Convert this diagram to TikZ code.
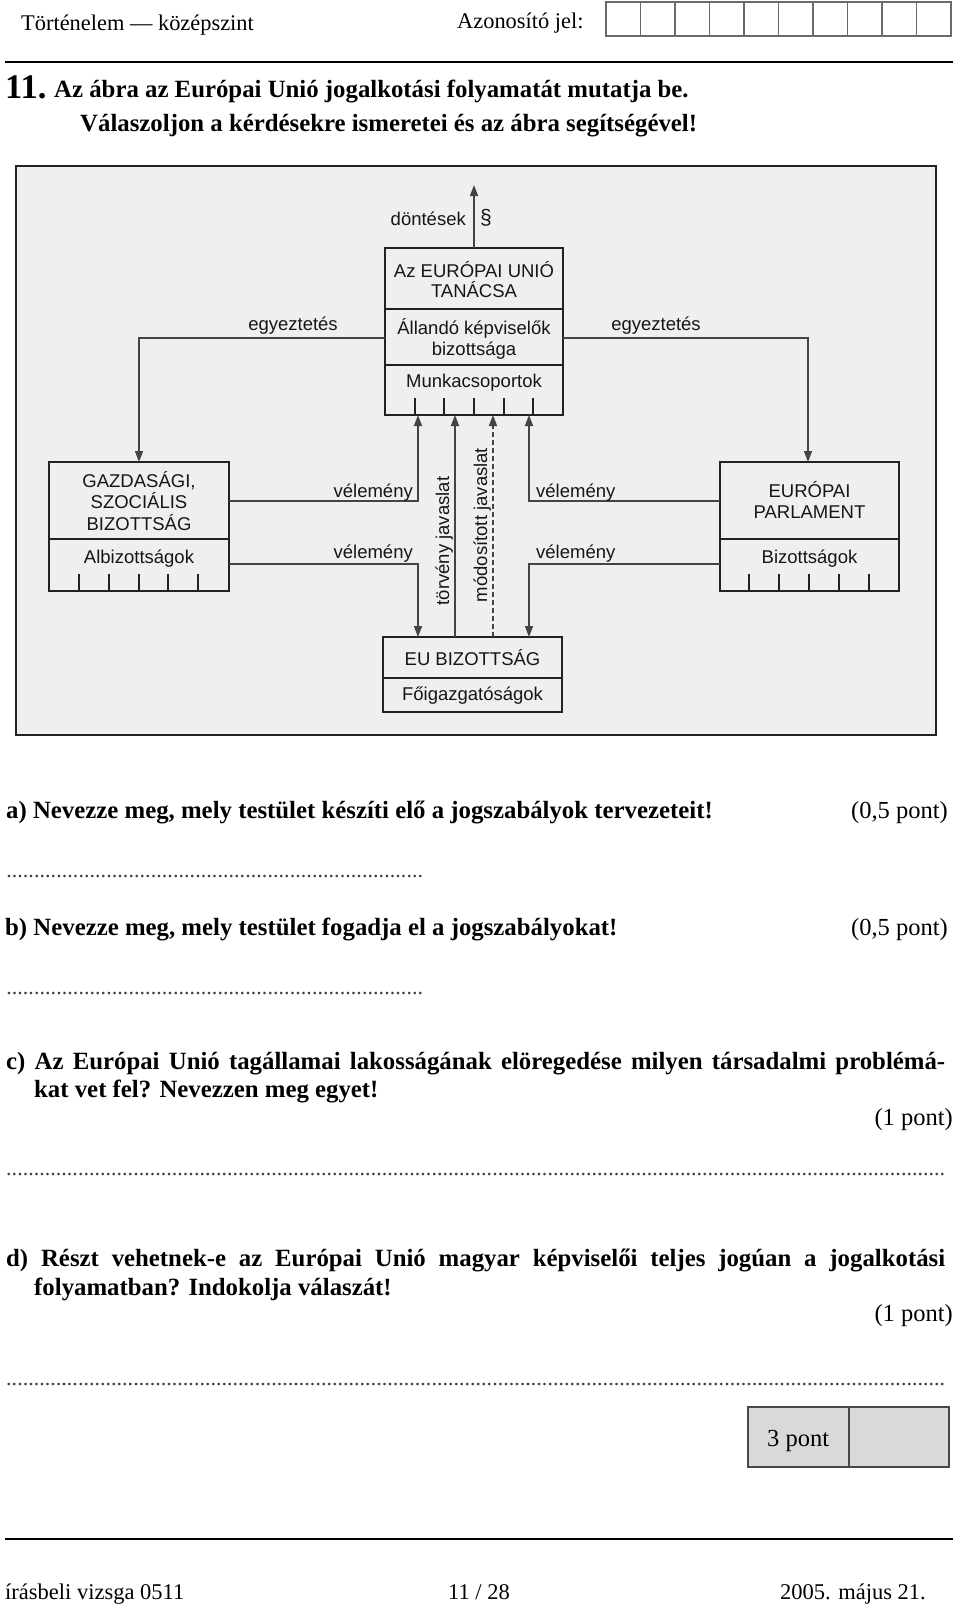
\documentclass[tikz,border=0pt]{standalone}
\usepackage{fontspec}
\setmainfont{Liberation Serif}
\newfontfamily\arialf{Liberation Sans}
\usetikzlibrary{arrows.meta}
\definecolor{framefill}{HTML}{EFEFEF}
\definecolor{boxc}{HTML}{222222}
\definecolor{linec}{HTML}{444444}
\definecolor{txtc}{HTML}{161616}
\definecolor{cellc}{HTML}{6A6A6A}
\definecolor{ptfill}{HTML}{D9D9D9}
\newcommand\dotrow[1]{\hbox to #1{\xleaders\hbox{.}\hfill}}
\tikzset{
  frm/.style={draw=boxc, line width=2pt, fill=framefill, inner sep=0pt, outer sep=0pt},
  dbox/.style={draw=boxc, line width=2.3pt, inner sep=0pt, outer sep=0pt},
  divl/.style={draw=boxc, line width=2pt},
  tickl/.style={draw=boxc, line width=1.6pt},
  conn/.style={draw=linec, line width=1.5pt},
  arr/.style={conn, -{Triangle[length=11pt,width=8pt]}},
  dtxt/.style={font=\arialf\fontsize{18.5}{21}\selectfont, text=txtc, inner sep=0pt, anchor=base},
  hdr/.style={font=\fontsize{22.4}{26}\selectfont, inner sep=0pt, anchor=base west},
  qb/.style={font=\bfseries\fontsize{24.8}{29}\selectfont, inner sep=0pt, anchor=base west},
  pt/.style={font=\fontsize{24.5}{29}\selectfont, inner sep=0pt, anchor=base east},
  dots/.style={font=\fontsize{22}{26}\selectfont, text=black!75, inner sep=0pt, anchor=base west},
  foot/.style={font=\fontsize{22.5}{26}\selectfont, inner sep=0pt, anchor=base west},
}
\begin{document}
\begin{tikzpicture}[x=1pt,y=-1pt]
\useasboundingbox (0,0) rectangle (960,1604);
\fill[white] (0,0) rectangle (960,1604);

% ---------- header ----------
\node[hdr] (hleft) at (21,30) {Történelem — középszint};
\node[hdr] (hid) at (457,28) {Azonosító jel:};
\node[draw=cellc, line width=1.3pt, minimum width=345pt, minimum height=34pt, inner sep=0pt, outer sep=0pt] (cells) at (778.5,19) {};
\foreach \i in {1,...,9} { \draw[draw=cellc, line width=1.3pt] (606+34.5*\i,2) -- (606+34.5*\i,36); }
\draw[line width=2.8pt] (5,62) -- (953,62);

\node[font=\bfseries\fontsize{34.5}{38}\selectfont, inner sep=0pt, anchor=base west] (qnum) at (5,98) {11.};
\node[qb] (t1) at (54,97) {Az ábra az Európai Unió jogalkotási folyamatát mutatja be.};
\node[qb] (t2) at (80,131) {Válaszoljon a kérdésekre ismeretei és az ábra segítségével!};

% ---------- diagram ----------
\node[frm, minimum width=920pt, minimum height=569pt] (frame) at (476,450.5) {};

\coordinate (dec) at (474,185);
\coordinate (eyL) at (139,338);
\coordinate (eyR) at (808,338);
\coordinate (v1) at (418,501);
\coordinate (v2) at (418,564);
\coordinate (v3) at (529,501);
\coordinate (v4) at (529,564);
\coordinate (tj) at (455,540);
\coordinate (mj) at (493,540);

\node[dbox, minimum width=178pt, minimum height=167pt] (council) at (474,331.5) {};
\node[dbox, minimum width=180pt, minimum height=129pt] (egszb) at (139,526.5) {};
\node[dbox, minimum width=179pt, minimum height=129pt] (ep) at (809.5,526.5) {};
\node[dbox, minimum width=179pt, minimum height=75pt] (comm) at (472.5,674.5) {};

% connectors
\draw[arr] (council.north) -- (dec);
\draw[arr] (council.west |- eyL) -- (eyL) -- (egszb.north);
\draw[arr] (council.east |- eyR) -- (eyR) -- (eyR |- ep.north);
\draw[arr] (egszb.east |- v1) -- (v1) -- (v1 |- council.south);
\draw[arr] (egszb.east |- v2) -- (v2) -- (v2 |- comm.north);
\draw[arr] (ep.west |- v3) -- (v3) -- (v3 |- council.south);
\draw[arr] (ep.west |- v4) -- (v4) -- (v4 |- comm.north);
\draw[arr] (tj |- comm.north) -- (tj |- council.south);
\draw[arr, dash pattern=on 5pt off 3pt] (mj |- comm.north) -- (mj |- council.south);

% dividers
\draw[divl] (council.west |- 0,309) -- (council.east |- 0,309);
\draw[divl] (council.west |- 0,365) -- (council.east |- 0,365);
\draw[divl] (egszb.west |- 0,539) -- (egszb.east |- 0,539);
\draw[divl] (ep.west |- 0,539) -- (ep.east |- 0,539);
\draw[divl] (comm.west |- 0,678) -- (comm.east |- 0,678);

% ticks
\foreach \x in {415,444,474,504,533} { \draw[tickl] (\x,398) -- (\x,415); }
\foreach \x in {79,109,139,168,198} { \draw[tickl] (\x,574) -- (\x,591); }
\foreach \x in {749,779,809,839,869} { \draw[tickl] (\x,574) -- (\x,591); }

% texts in boxes
\node[dtxt] (c1) at (474,277) {Az EURÓPAI UNIÓ};
\node[dtxt] (c2) at (474,297) {TANÁCSA};
\node[dtxt] (c3) at (474,334) {Állandó képviselők};
\node[dtxt] (c4) at (474,355) {bizottsága};
\node[dtxt] (c5) at (474,387) {Munkacsoportok};

\node[dtxt] (g1) at (139,487) {GAZDASÁGI,};
\node[dtxt] (g2) at (139,508) {SZOCIÁLIS};
\node[dtxt] (g3) at (139,530) {BIZOTTSÁG};
\node[dtxt] (g4) at (139,563) {Albizottságok};

\node[dtxt] (e1) at (809.5,497) {EURÓPAI};
\node[dtxt] (e2) at (809.5,518) {PARLAMENT};
\node[dtxt] (e3) at (809.5,563) {Bizottságok};

\node[dtxt] (k1) at (472.5,665) {EU BIZOTTSÁG};
\node[dtxt] (k2) at (472.5,700) {Főigazgatóságok};

% connector labels
\node[dtxt, anchor=base east] (ldec) at (466,225) {döntések};
\node[dtxt, anchor=base west, font=\arialf\fontsize{21}{23}\selectfont] (lpar) at (480,224) {§};
\node[dtxt] (leyL) at (293,330) {egyeztetés};
\node[dtxt] (leyR) at (656,330) {egyeztetés};
\node[dtxt, anchor=base east] (lv1) at (413,497) {vélemény};
\node[dtxt, anchor=base east] (lv2) at (413,558) {vélemény};
\node[dtxt, anchor=base west] (lv3) at (536,497) {vélemény};
\node[dtxt, anchor=base west] (lv4) at (536,558) {vélemény};
\node[dtxt, rotate=90] (ltj) at (449,541) {törvény javaslat};
\node[dtxt, rotate=90] (lmj) at (487,525) {módosított javaslat};

% ---------- questions ----------
\node[qb] (qa) at (6,818) {a) Nevezze meg, mely testület készíti elő a jogszabályok tervezeteit!};
\node[pt] (pa) at (948,818) {(0,5 pont)};
\node[dots] (da) at (6,877) {\dotrow{417pt}};

\node[qb] (qbq) at (5,935) {b) Nevezze meg, mely testület fogadja el a jogszabályokat!};
\node[pt] (pb) at (948,935) {(0,5 pont)};
\node[dots] (db) at (6,994) {\dotrow{417pt}};

\node[qb] (qc1) at (6,1069) {\makebox[939pt][s]{c) Az Európai Unió tagállamai lakosságának elöregedése milyen társadalmi problémá-}};
\node[qb] (qc2) at (34,1097) {kat vet fel? Nevezzen meg egyet!};
\node[pt] (pc) at (953,1125) {(1 pont)};
\node[dots] (dc) at (6,1175) {\dotrow{939pt}};

\node[qb] (qd1) at (6,1266) {\makebox[939pt][s]{d) Részt vehetnek-e az Európai Unió magyar képviselői teljes jogúan a jogalkotási}};
\node[qb] (qd2) at (34,1295) {folyamatban? Indokolja válaszát!};
\node[pt] (pd) at (953,1321) {(1 pont)};
\node[dots] (dd) at (6,1385) {\dotrow{939pt}};

% score box
\node[draw=black!72, line width=1.5pt, fill=ptfill, minimum width=201pt, minimum height=60pt, inner sep=0pt, outer sep=0pt] (score) at (848.5,1437) {};
\draw[draw=black!72, line width=1.5pt] (849,1407) -- (849,1467);
\node[font=\fontsize{24.5}{29}\selectfont, inner sep=0pt, anchor=base west] (sc) at (767,1446) {3 pont};

% ---------- footer ----------
\draw[line width=2.8pt] (5,1539) -- (953,1539);
\node[foot] (f1) at (5,1599) {írásbeli vizsga 0511};
\node[foot] (f2) at (448,1599) {11 / 28};
\node[foot, anchor=base east] (f3) at (926,1599) {2005. május 21.};
\end{tikzpicture}
\end{document}
